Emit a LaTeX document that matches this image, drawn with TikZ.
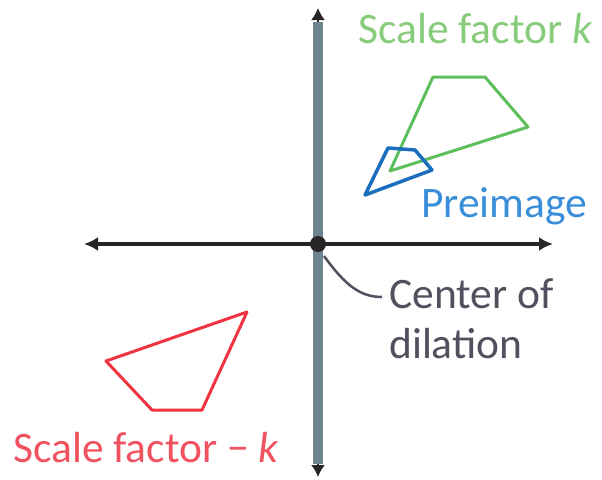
\documentclass[tikz,border=0pt]{standalone}
\usepackage{fontspec}
\setmainfont{Carlito}
\usetikzlibrary{arrows.meta}
\definecolor{axgray}{HTML}{6D8591}
\definecolor{axdark}{HTML}{262626}
\definecolor{grn}{HTML}{5CBF5C}
\definecolor{grntxt}{HTML}{86CC7A}
\definecolor{blu}{HTML}{1A6EBD}
\definecolor{blutxt}{HTML}{3A8EDA}
\definecolor{rd}{HTML}{EF3340}
\definecolor{rdtxt}{HTML}{F0525F}
\definecolor{lbl}{HTML}{50505E}
\tikzset{
  lab/.style={anchor=base west, inner sep=0pt, font=\fontsize{43.5}{52}\selectfont},
  shapeline/.style={line width=3pt, line join=round}
}
\begin{document}
\begin{tikzpicture}[x=1pt,y=-1pt]
\useasboundingbox (0,0) rectangle (602,479);
% axes
\coordinate (o) at (318,244);
\coordinate (top) at (318,8);
\coordinate (bot) at (318,477);
\coordinate (lft) at (84,244);
\coordinate (rgt) at (553,244);
\draw[axdark, line width=2pt, {Latex[length=12pt,width=14pt]}-{Latex[length=12pt,width=14pt]}] (top) -- (bot);
\draw[axgray, line width=10pt] (318,22) -- (318,464);
\draw[axdark, line width=4pt, {Latex[length=14pt,width=14pt]}-{Latex[length=14pt,width=14pt]}] (lft) -- (rgt);
\fill[axdark] (o) circle (8);
% shapes
\draw[grn, shapeline] (433,77) -- (485,77) -- (528,127) -- (390,171) -- cycle;
\draw[blu, line width=3.5pt, line join=round] (388,148) -- (415,150) -- (432,170) -- (365,195) -- cycle;
\draw[rd, shapeline] (247,312) -- (106,361) -- (152,410) -- (202,410) -- cycle;
% labels
\node[lab, text=grntxt] (sk) at (358,43) {Scale factor \textit{k}};
\node[lab, text=blutxt] (pre) at (421,217) {Preimage};
\node[lab, text=lbl] (cen) at (389,308) {Center of};
\node[lab, text=lbl] (dil) at (389,358) {dilation};
\node[lab, text=rdtxt] (smk) at (13,462) {Scale factor − \textit{k}};
\coordinate (lend) at (382,297);
\draw[lbl, line width=2.5pt] (324,256) .. controls (345,285) and (360,297) .. (lend);
\end{tikzpicture}
\end{document}
